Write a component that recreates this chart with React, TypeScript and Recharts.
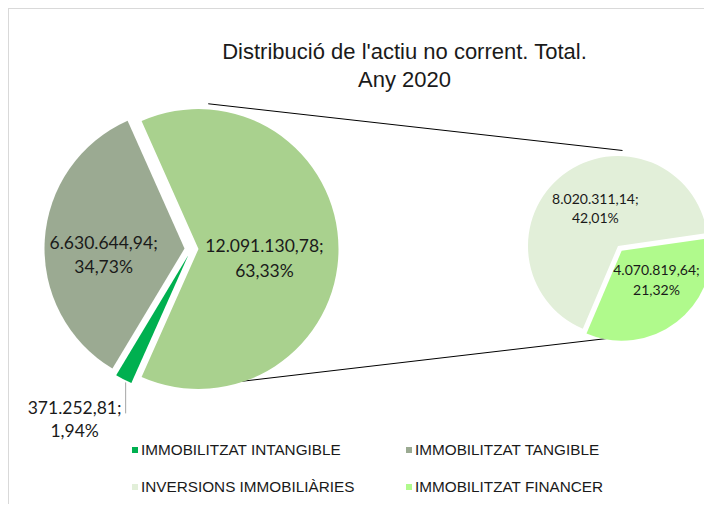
import { Cell, Customized, Legend, Pie, PieChart, Sector } from 'recharts'

// main pie: the last slice is the "other" group that the second pie breaks down
const MAIN_NAMES = ['IMMOBILITZAT INTANGIBLE', 'IMMOBILITZAT TANGIBLE']
const MAIN_VALUES = [371252.81, 6630644.94]
const SUB_NAMES = ['INVERSIONS IMMOBILIÀRIES', 'IMMOBILITZAT FINANCER']
const SUB_VALUES = [8020311.14, 4070819.64]

const MAIN_COLORS = ['#00B050', '#9BAA92', '#A9D18E']
const SUB_COLORS = ['#E2EFD9', '#B0FA8C']

const TITLE = ["Distribució de l'actiu no corrent. Total.", 'Any 2020']

const W = 703
const H = 495
const MAIN_CX = 177.5
const MAIN_CY = 235
const MAIN_R = 140
const MAIN_EXPLODE = [7, 7, 7]
const SUB_CX = 604
const SUB_CY = 232
const SUB_R = 90
const SUB_EXPLODE = [0, 6]
const SUB_START = 247
const CONNECTOR_ANGLE = 84

const LABEL_FONT = 'Lato, "Open Sans", sans-serif'
const TEXT_FONT = '"Liberation Sans", Arial, sans-serif'

const otherValue = SUB_VALUES.reduce((a, b) => a + b, 0)
const total = MAIN_VALUES.reduce((a, b) => a + b, 0) + otherValue

const mainData = [...MAIN_NAMES, 'ALTRES'].map((name, i) => ({
  name,
  value: i < MAIN_VALUES.length ? MAIN_VALUES[i] : otherValue,
}))
const subData = SUB_NAMES.map((name, i) => ({ name, value: SUB_VALUES[i] }))

const mainStart = 360 - ((otherValue / total) * 360) / 2

function fmtNum(v: number) {
  const [i, d] = v.toFixed(2).split('.')
  return i.replace(/\B(?=(\d{3})+(?!\d))/g, '.') + ',' + d
}
function fmtPct(v: number) {
  return ((v / total) * 100).toFixed(2).replace('.', ',') + '%'
}

const RAD = Math.PI / 180
function polar(cx: number, cy: number, r: number, angle: number) {
  return { x: cx + r * Math.cos(-angle * RAD), y: cy + r * Math.sin(-angle * RAD) }
}

function explodedShape(dists: number[]) {
  return (props: any, idx?: number) => {
    const i = typeof idx === 'number' ? idx : props.index ?? 0
    const c = polar(props.cx, props.cy, dists[i] ?? 0, props.midAngle)
    return <Sector {...props} cx={c.x} cy={c.y} />
  }
}

// label placement: fraction of radius along the slice middle, plus a nudge
const MAIN_LABEL_K = [0, 0.55, 0.5]
const MAIN_LABEL_NUDGE = [[0, 0], [-4, 11], [-4, 9]]
const SUB_LABEL_K = [0.43, 0.58]
const SUB_LABEL_NUDGE = [[1, -7], [3, -12]]

function TwoLines({ x, y, lines, size, gap }: { x: number; y: number; lines: string[]; size: number; gap: number }) {
  return (
    <text x={x} textAnchor="middle" fontFamily={LABEL_FONT} fontSize={size} fill="#1a1a1a">
      {lines.map((t, i) => (
        <tspan key={i} x={x} y={y - gap / 2 + i * gap + size * 0.36}>
          {t}
        </tspan>
      ))}
    </text>
  )
}

function renderMainLabel(p: any) {
  const i = p.index
  const v = p.value as number
  const lines = [fmtNum(v) + ';', fmtPct(v)]
  const e = polar(p.cx, p.cy, MAIN_EXPLODE[i], p.midAngle)
  if (i === 0) {
    const edge = polar(e.x, e.y, p.outerRadius, p.midAngle)
    const lineEnd = edge.y + 34
    return (
      <g>
        <line x1={edge.x + 2} y1={edge.y + 3} x2={edge.x + 2} y2={lineEnd} stroke="#A6A6A6" strokeWidth={1} />
        <TwoLines x={edge.x - 49} y={lineEnd + 6} lines={lines} size={17.5} gap={23} />
      </g>
    )
  }
  const a = polar(e.x, e.y, p.outerRadius * MAIN_LABEL_K[i], p.midAngle)
  const [dx, dy] = MAIN_LABEL_NUDGE[i]
  return <TwoLines x={a.x + dx} y={a.y + dy} lines={lines} size={17.5} gap={24.5} />
}

function renderSubLabel(p: any) {
  const i = p.index
  const v = p.value as number
  const e = polar(p.cx, p.cy, SUB_EXPLODE[i], p.midAngle)
  const a = polar(e.x, e.y, p.outerRadius * SUB_LABEL_K[i], p.midAngle)
  const [dx, dy] = SUB_LABEL_NUDGE[i]
  return <TwoLines x={a.x + dx} y={a.y + dy} lines={[fmtNum(v) + ';', fmtPct(v)]} size={14} gap={19.5} />
}

function Overlay() {
  // "other" slice sits centred on 0 degrees, so its explosion pushes it right
  const otherCenter = polar(MAIN_CX, MAIN_CY, MAIN_EXPLODE[2], 0)
  const subShare = SUB_VALUES[0] / otherValue
  const lastMid = SUB_START - subShare * 360 - ((1 - subShare) * 360) / 2
  const lastCenter = polar(SUB_CX, SUB_CY, SUB_EXPLODE[1], lastMid)
  const t1 = polar(otherCenter.x, otherCenter.y, MAIN_R + 1, CONNECTOR_ANGLE)
  const t2 = polar(SUB_CX, SUB_CY, SUB_R + 1, CONNECTOR_ANGLE)
  const b1 = polar(otherCenter.x, otherCenter.y, MAIN_R + 2, -CONNECTOR_ANGLE)
  const b2 = polar(lastCenter.x, lastCenter.y, SUB_R + 1, -CONNECTOR_ANGLE)
  return (
    <g>
      <line x1={t1.x} y1={t1.y} x2={t2.x} y2={t2.y} stroke="#000" strokeWidth={1} />
      <line x1={b1.x} y1={b1.y} x2={b2.x} y2={b2.y} stroke="#000" strokeWidth={1} />
      <text x={395.5} textAnchor="middle" fontFamily={TEXT_FONT} fontSize={22} fill="#1a1a1a">
        {TITLE.map((t, i) => (
          <tspan key={i} x={395.5} y={50 + i * 27.5}>
            {t}
          </tspan>
        ))}
      </text>
    </g>
  )
}

function LegendGrid() {
  const items = [
    ...MAIN_NAMES.map((n, i) => ({ n, c: MAIN_COLORS[i] })),
    ...SUB_NAMES.map((n, i) => ({ n, c: SUB_COLORS[i] })),
  ]
  return (
    <div
      style={{
        display: 'grid',
        gridTemplateColumns: '274px 274px',
        rowGap: 19,
        fontFamily: TEXT_FONT,
        fontSize: 15.3,
        color: '#1a1a1a',
      }}
    >
      {items.map((it) => (
        <div key={it.n} style={{ display: 'flex', alignItems: 'center', height: 18, whiteSpace: 'nowrap' }}>
          <span style={{ width: 6, height: 6, background: it.c, marginRight: 3, flex: 'none' }} />
          <span>{it.n}</span>
        </div>
      ))}
    </div>
  )
}

export default function App() {
  return (
    <div style={{ width: 696, overflow: 'hidden' }}>
      <div style={{ width: W, height: H, borderTop: '1px solid #D9D9D9', borderLeft: '1px solid #D9D9D9', background: '#fff' }}>
        <PieChart width={W} height={H}>
          <Pie
            data={mainData}
            dataKey="value"
            nameKey="name"
            cx={MAIN_CX}
            cy={MAIN_CY}
            outerRadius={MAIN_R}
            startAngle={mainStart}
            endAngle={mainStart - 360}
            stroke="none"
            isAnimationActive={false}
            shape={explodedShape(MAIN_EXPLODE)}
            label={renderMainLabel}
            labelLine={false}
          >
            {mainData.map((d, i) => (
              <Cell key={d.name} fill={MAIN_COLORS[i]} />
            ))}
          </Pie>
          <Pie
            data={subData}
            dataKey="value"
            nameKey="name"
            cx={SUB_CX}
            cy={SUB_CY}
            outerRadius={SUB_R}
            startAngle={SUB_START}
            endAngle={SUB_START - 360}
            stroke="none"
            isAnimationActive={false}
            shape={explodedShape(SUB_EXPLODE)}
            label={renderSubLabel}
            labelLine={false}
          >
            {subData.map((d, i) => (
              <Cell key={d.name} fill={SUB_COLORS[i]} />
            ))}
          </Pie>
          <Customized component={Overlay} />
          <Legend content={() => <LegendGrid />} wrapperStyle={{ left: 123, top: 432, width: 560 }} />
        </PieChart>
      </div>
    </div>
  )
}
